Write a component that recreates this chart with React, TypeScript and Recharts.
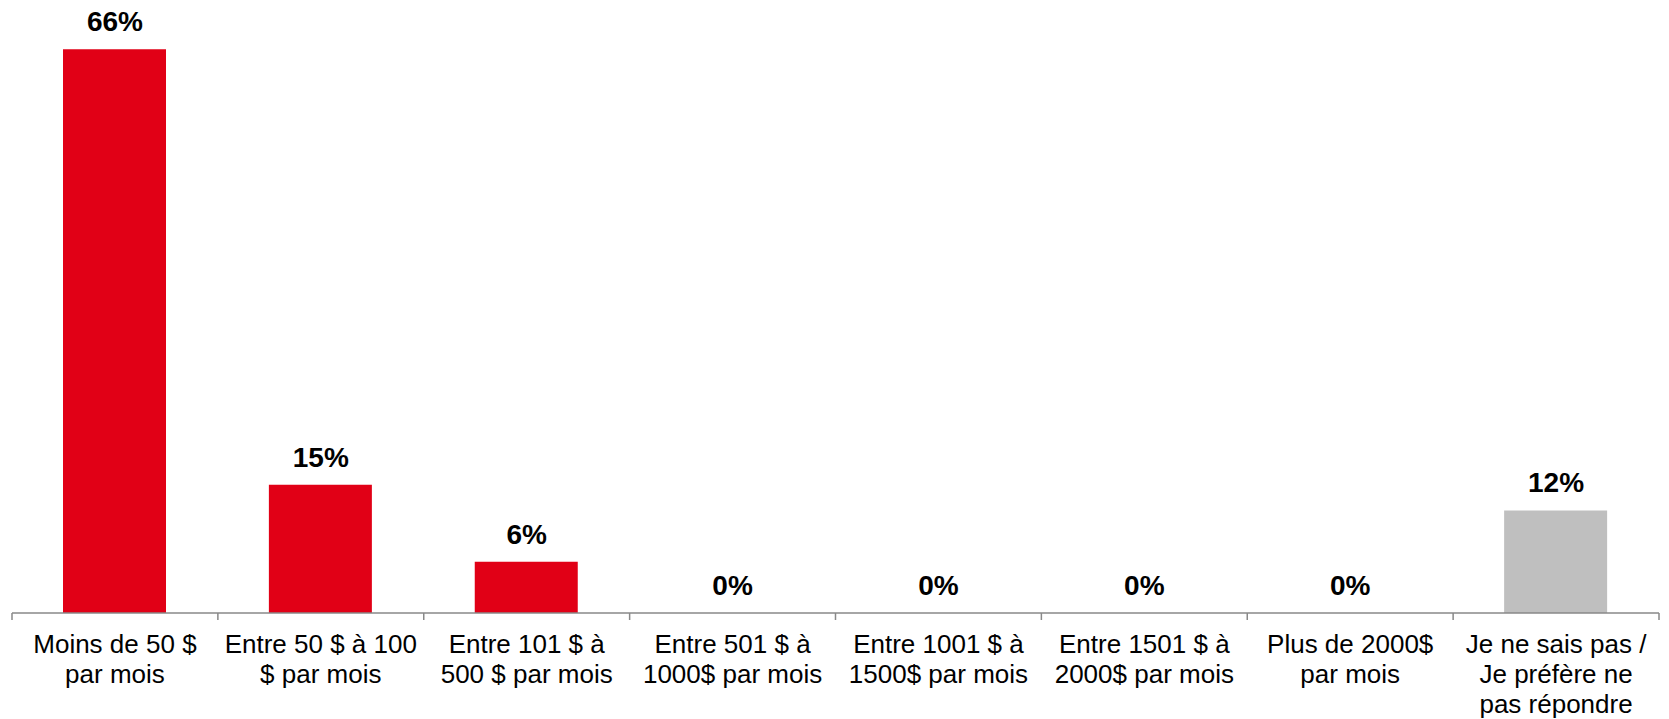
import { ComposedChart, Bar, Line, XAxis, YAxis, Cell, LabelList } from 'recharts'

// Survey answers: monthly amount ranges, last bucket is "don't know / no answer"
const categories = [
  'Moins de 50 $\npar mois',
  'Entre 50 $ à 100\n$ par mois',
  'Entre 101 $ à\n500 $ par mois',
  'Entre 501 $ à\n1000$ par mois',
  'Entre 1001 $ à\n1500$ par mois',
  'Entre 1501 $ à\n2000$ par mois',
  'Plus de 2000$\npar mois',
  'Je ne sais pas /\nJe préfère ne\npas répondre',
]
const shares = [66, 15, 6, 0, 0, 0, 0, 12]
const yDomain = [0, 70]

const data = categories.map((label, i) => ({ label, share: shares[i] }))

const WIDTH = 1669
const HEIGHT = 719
const MARGIN = { top: 15, right: 10, bottom: 0, left: 12 }
const RED = '#E10016'
const GREY = '#BFBFBF'
const AXIS = '#898989'
const FONT = '"Liberation Sans", Arial, sans-serif'

function CategoryTick(props: any) {
  const { x, y, payload, index } = props
  const fallback = (WIDTH - MARGIN.left - MARGIN.right) / categories.length / 2
  const half = payload?.offset || fallback
  const lines = String(payload.value).split('\n')
  const isLast = index === categories.length - 1
  return (
    <g>
      <line x1={x - half} x2={x - half} y1={y} y2={y + 7} stroke={AXIS} strokeWidth={1.5} />
      {isLast && <line x1={x + half} x2={x + half} y1={y} y2={y + 7} stroke={AXIS} strokeWidth={1.5} />}
      <text textAnchor="middle" fontSize={26} fill="#000" fontFamily={FONT}>
        {lines.map((line, i) => (
          <tspan key={i} x={x} y={y + 40 + i * 30}>{line}</tspan>
        ))}
      </text>
    </g>
  )
}

export default function App() {
  return (
    <div style={{ position: 'absolute', left: 0, top: 0, background: '#fff' }}>
      <ComposedChart width={WIDTH} height={HEIGHT} data={data} margin={MARGIN}>
        <XAxis
          dataKey="label"
          height={106}
          interval={0}
          tickSize={0}
          tickMargin={0}
          tickLine={false}
          axisLine={{ stroke: AXIS, strokeWidth: 1.5 }}
          tick={<CategoryTick />}
        />
        <YAxis hide domain={yDomain} />
        <Bar dataKey="share" barSize={103} isAnimationActive={false}>
          {data.map((_, i) => (
            <Cell key={i} fill={i === data.length - 1 ? GREY : RED} />
          ))}
        </Bar>
        {/* invisible line so zero-height bars still get their value label */}
        <Line
          dataKey="share"
          stroke="none"
          dot={false}
          activeDot={false}
          legendType="none"
          isAnimationActive={false}
        >
          <LabelList
            dataKey="share"
            position="top"
            offset={18}
            formatter={(v: any) => `${v}%`}
            fill="#000"
            fontSize={28}
            fontWeight="bold"
            fontFamily={FONT}
          />
        </Line>
      </ComposedChart>
    </div>
  )
}
